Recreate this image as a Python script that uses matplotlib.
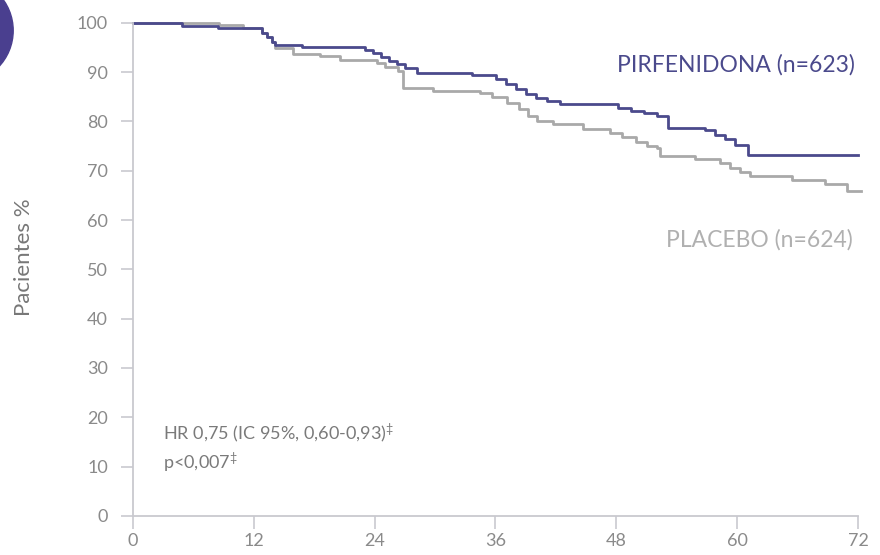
import matplotlib.pyplot as plt
from matplotlib.patches import Ellipse

# Kaplan-Meier steps (months, % patients), step occurs at each time
pirf_t = [0, 4.9, 8.5, 12.8, 13.3, 13.8, 14.1, 16.8, 23.0, 23.8, 24.6, 25.4,
          26.2, 27.0, 28.2, 33.7, 36.1, 37.0, 38.0, 39.0, 40.0, 41.1, 42.4,
          48.2, 49.5, 50.8, 52.0, 53.1, 56.8, 57.8, 58.8, 59.8, 61.1, 72.0]
pirf_v = [100, 99.3, 98.9, 98.0, 97.0, 96.0, 95.4, 95.0, 94.5, 93.8, 93.0, 92.3,
          91.6, 90.8, 89.9, 89.3, 88.5, 87.6, 86.6, 85.6, 84.8, 84.2, 83.5,
          82.8, 82.2, 81.6, 81.0, 78.7, 78.2, 77.3, 76.4, 75.2, 73.2, 73.2]

plac_t = [0, 8.6, 10.9, 12.8, 13.3, 13.8, 14.1, 15.9, 18.6, 20.6, 24.2, 25.0,
          26.3, 26.8, 29.8, 34.5, 35.7, 37.1, 38.3, 39.2, 40.1, 41.7, 44.7,
          47.4, 48.6, 50.0, 51.0, 52.0, 52.3, 55.8, 58.3, 59.3, 60.3, 61.3,
          65.4, 68.7, 70.9, 72.3]
plac_v = [100, 99.5, 98.9, 98.0, 97.0, 96.0, 94.9, 93.7, 93.3, 92.4, 91.8, 91.0,
          90.3, 86.8, 86.2, 85.7, 85.0, 83.8, 82.5, 81.0, 80.1, 79.4, 78.4,
          77.6, 76.8, 75.9, 75.0, 74.6, 72.9, 72.3, 71.6, 70.6, 69.8, 69.0,
          68.2, 67.3, 65.9, 65.9]

x_ticks = [0, 12, 24, 36, 48, 60, 72]
y_ticks = list(range(0, 101, 10))

navy = "#4b4a8c"
gray_line = "#a9a9a9"
axis_col = "#c9c9cf"
tick_txt = "#8a8a8a"

plt.rcParams["font.family"] = ["Lato", "DejaVu Sans"]
plt.rcParams["mathtext.fontset"] = "custom"
plt.rcParams["mathtext.rm"] = "Lato"
plt.rcParams["mathtext.it"] = "Lato"

fig = plt.figure(figsize=(8.8, 5.55), dpi=100)
ax = fig.add_axes([0.151, 0.0703, 0.824, 0.8888])

ax.step(plac_t, plac_v, where="post", color=gray_line, lw=2.0, clip_on=False)
ax.step(pirf_t, pirf_v, where="post", color=navy, lw=2.0, clip_on=False)

ax.set_xlim(0, 72)
ax.set_ylim(0, 100)
ax.set_xticks(x_ticks)
ax.set_yticks(y_ticks)

for s in ["top", "right"]:
    ax.spines[s].set_visible(False)
for s in ["left", "bottom"]:
    ax.spines[s].set_color(axis_col)
    ax.spines[s].set_linewidth(1.3)

ax.tick_params(axis="both", colors=axis_col, length=9, width=1.2,
               labelcolor=tick_txt, labelsize=13)
ax.tick_params(axis="y", pad=9)
ax.tick_params(axis="x", pad=3)

ax.set_ylabel("Pacientes %", fontsize=16, color="#777777")
ax.yaxis.set_label_coords(-0.137, 0.524)

ax.text(71.7, 91.5, "PIRFENIDONA (n=623)", color=navy, fontsize=16.5,
        ha="right", va="center")
ax.text(71.5, 56.0, "PLACEBO (n=624)", color="#b0b0b0", fontsize=16.5,
        ha="right", va="center")

ax.text(3.0, 16.8, "HR 0,75 (IC 95%, 0,60-0,93)$^{\u2021}$", color="#7a7a7a",
        fontsize=13, ha="left", va="center")
ax.text(3.0, 10.8, "p<0,007$^{\u2021}$", color="#7a7a7a",
        fontsize=13, ha="left", va="center")

# panel badge in the corner
fig.patches.append(Ellipse((-0.045, 0.945), 0.12, 0.19, transform=fig.transFigure,
                           color="#4a3f8f", zorder=5))

fig.savefig("out.png", dpi=100)
plt.close(fig)
